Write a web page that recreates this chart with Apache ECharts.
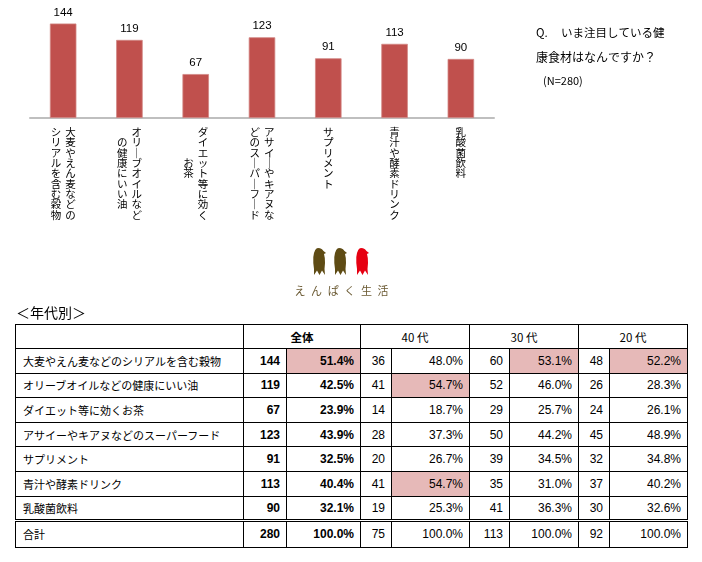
<!DOCTYPE html>
<html><head><meta charset="utf-8">
<script src="https://cdn.jsdelivr.net/npm/echarts@6/dist/echarts.min.js"></script>
<style>
html,body{margin:0;padding:0;background:#fff;width:702px;height:562px;overflow:hidden;}
#chart{position:absolute;left:0;top:0;width:702px;height:312px;}
#caption{position:absolute;left:16px;top:302px;font-size:14px;font-family:"Noto Sans CJK JP";line-height:20px;color:#000;}
#tbl{position:absolute;left:15px;top:324px;border-collapse:collapse;table-layout:fixed;font-family:"Noto Sans CJK JP";font-size:11px;color:#000;border:1.5px solid #000;}
#tbl td{border:1.2px solid #000;padding:0 6px;height:24.6px;box-sizing:border-box;white-space:nowrap;line-height:14px;}
#tbl td.lab{text-align:left;padding-left:7px;}
#tbl td.num{text-align:right;font-family:"Liberation Sans";font-size:12px;}
#tbl td.b{font-weight:bold;}
#tbl td.hl{background:#E6B9B8;}
#tbl td.hd{text-align:center;font-size:11.5px;}
#tbl tr.total td{border-top:3px double #000;height:26.5px;}
#tbl tr.head td{height:24px;}
</style>
</head><body>
<div id="chart"></div>
<div id="caption">＜年代別＞</div>
<table id="tbl"></table>
<script>
// ---- data ----
const categories = [
  "大麦やえん麦などの\nシリアルを含む穀物",
  "オリーブオイルなど\nの健康にいい油",
  "ダイエット等に効く\nお茶",
  "アサイーやキアヌな\nどのスーパーフード",
  "サプリメント",
  "青汁や酵素ドリンク",
  "乳酸菌飲料"
];
const totalCounts = [144, 119, 67, 123, 91, 113, 90];
const totalPct = [51.4, 42.5, 23.9, 43.9, 32.5, 40.4, 32.1];
const age40Counts = [36, 41, 14, 28, 20, 41, 19];
const age40Pct = [48.0, 54.7, 18.7, 37.3, 26.7, 54.7, 25.3];
const age30Counts = [60, 52, 29, 50, 39, 35, 41];
const age30Pct = [53.1, 46.0, 25.7, 44.2, 34.5, 31.0, 36.3];
const age20Counts = [48, 26, 24, 45, 32, 37, 30];
const age20Pct = [52.2, 28.3, 26.1, 48.9, 34.8, 40.2, 32.6];
const groupNames = ["全体", "40 代", "30 代", "20 代"];
const groupTotals = [280, 75, 113, 92];
const totalLabel = "合計";
const titleLines = ["Q.", "いま注目している健", "康食材はなんですか？", "(N=280)"];
const logoText = "えんぱく生活";

// ---- vertical label formatter ----
function vertLabel(value) {
  const cols = value.split('\n').map(s => Array.from(s.replace(/ー/g, '｜')));
  const n = Math.max(...cols.map(c => c.length));
  const padded = cols.map(c => {
    if (cols.length === 1) { while (c.length < n) c.push('　'); return c; }
    const top = Math.floor((n - c.length) / 2);
    const arr = [];
    for (let i = 0; i < top; i++) arr.push('　');
    arr.push(...c);
    while (arr.length < n) arr.push('　');
    return arr;
  });
  const lines = [];
  for (let i = 0; i < n; i++) {
    const parts = [];
    for (let k = padded.length - 1; k >= 0; k--) {
      parts.push('{c|' + padded[k][i] + '}');
    }
    lines.push(parts.join('{g|　}'));
  }
  return lines.join('\n');
}

// ---- chart ----
const chart = echarts.init(document.getElementById('chart'));
const birdShape = [[5,0],[7,0.3],[9,1.2],[10.5,3],[13,5],[11,6],[11.8,10],[12,15],[11.5,21],[12,27],[9,22.5],[6.5,27],[4,22.5],[1,27],[1,21],[0.3,15],[0.3,9],[1,5],[2.2,2],[3.5,0.5]];
function bird(x0, y0, color) {
  return {type:'polygon', shape:{points:birdShape.map(p => [x0 + p[0], y0 + p[1]])}, style:{fill:color}};
}
const graphics = [
  {type:'text', x:536, y:33, style:{text:titleLines[0], fontSize:11.5, fontFamily:'Noto Sans CJK JP', fill:'#000', verticalAlign:'middle'}},
  {type:'text', x:561, y:33, style:{text:titleLines[1], fontSize:11.5, fontFamily:'Noto Sans CJK JP', fill:'#000', verticalAlign:'middle'}},
  {type:'text', x:536, y:57, style:{text:titleLines[2], fontSize:12, fontFamily:'Noto Sans CJK JP', fill:'#000', verticalAlign:'middle'}},
  {type:'text', x:543, y:81, style:{text:titleLines[3], fontSize:11, fontFamily:'Noto Sans CJK JP', fill:'#000', verticalAlign:'middle'}},
  bird(313, 248, '#5E4B14'),
  bird(334, 248, '#5E4B14'),
  bird(356, 248, '#E60012')
];
Array.from(logoText).forEach((ch, i) => {
  graphics.push({type:'text', x:300 + i * 16.6, y:291, style:{text:ch, fontSize:11, fontFamily:'Noto Sans CJK JP', fill:'#6B5A33', align:'center', verticalAlign:'middle'}});
});

chart.setOption({
  animation:false,
  grid:{left:30, right:208, top:13, bottom:194},
  xAxis:{
    type:'category', data:categories,
    axisLine:{lineStyle:{color:'#BFBFBF', width:2}},
    axisTick:{show:false},
    axisLabel:{
      interval:0, margin:9, formatter:vertLabel, lineHeight:10.3,
      rich:{
        c:{fontSize:10.5, lineHeight:10.3, fontFamily:'Noto Sans CJK JP', color:'#000'},
        g:{fontSize:4, lineHeight:10.3}
      }
    }
  },
  yAxis:{type:'value', min:0, max:160, show:false, splitLine:{show:false}},
  series:[{
    type:'bar', data:totalCounts, barWidth:'40%',
    itemStyle:{color:'#C0504D', borderColor:'#D28684', borderWidth:0.8},
    label:{show:true, position:'top', distance:5, fontSize:11.5, color:'#000', fontFamily:'Liberation Sans'}
  }],
  graphic:graphics
});

// ---- table ----
const tableLabels = categories.map(s => s.replace('\n', ''));
const groups = [
  [totalCounts, totalPct],
  [age40Counts, age40Pct],
  [age30Counts, age30Pct],
  [age20Counts, age20Pct]
];
const colWidths = [228, 43, 74, 31, 78, 40, 69, 31, 78];
const tbl = document.getElementById('tbl');
let html = '<colgroup>' + colWidths.map(w => '<col style="width:' + w + 'px">').join('') + '</colgroup>';
html += '<tr class="head"><td></td>' + groupNames.map((g, i) =>
  '<td colspan="2" class="hd' + (i === 0 ? ' b' : '') + '">' + g + '</td>').join('') + '</tr>';
tableLabels.forEach((lab, r) => {
  html += '<tr><td class="lab">' + lab + '</td>';
  groups.forEach((g, gi) => {
    const max = Math.max(...g[1]);
    const bold = gi === 0 ? ' b' : '';
    html += '<td class="num' + bold + '">' + g[0][r] + '</td>';
    html += '<td class="num' + bold + (g[1][r] === max ? ' hl' : '') + '">' + g[1][r].toFixed(1) + '%</td>';
  });
  html += '</tr>';
});
html += '<tr class="total"><td class="lab">' + totalLabel + '</td>';
groupTotals.forEach((t, gi) => {
  const bold = gi === 0 ? ' b' : '';
  html += '<td class="num' + bold + '">' + t + '</td><td class="num' + bold + '">100.0%</td>';
});
html += '</tr>';
tbl.innerHTML = html;
</script>
</body></html>
